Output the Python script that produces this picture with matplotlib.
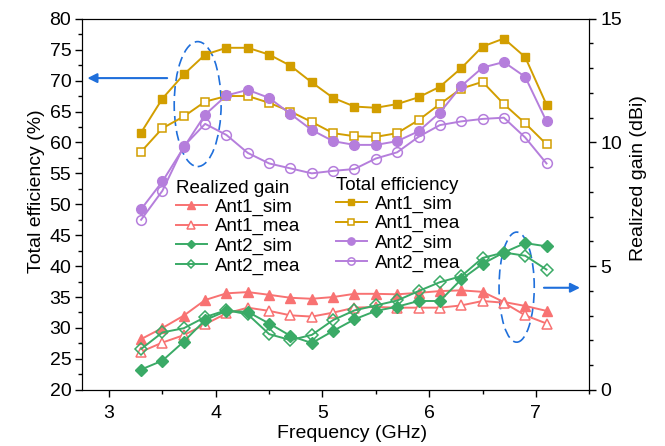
import numpy as np
import matplotlib
matplotlib.use("Agg")
import matplotlib.pyplot as plt
from matplotlib.patches import Ellipse
from matplotlib.ticker import MultipleLocator

plt.rcParams['font.family'] = ['Liberation Sans', 'DejaVu Sans']

# frequency points (GHz)
freq = [3.3, 3.5, 3.7, 3.9, 4.1, 4.3, 4.5, 4.7, 4.9, 5.1,
        5.3, 5.5, 5.7, 5.9, 6.1, 6.3, 6.5, 6.7, 6.9, 7.1]

# total efficiency (%)
eff_ant1_sim = [61.6, 67.1, 71.0, 74.2, 75.3, 75.3, 74.2, 72.4, 69.7, 67.2,
                65.8, 65.6, 66.2, 67.3, 69.0, 72.0, 75.5, 76.8, 73.8, 66.1]
eff_ant1_mea = [58.5, 62.3, 64.2, 66.6, 67.5, 67.5, 66.4, 65.0, 63.3, 61.5,
                61.0, 60.9, 61.5, 63.6, 66.2, 68.7, 69.8, 66.2, 63.1, 59.7]
eff_ant2_sim = [49.2, 53.7, 59.2, 64.5, 67.6, 68.5, 67.2, 64.6, 62.0, 60.2,
                59.6, 59.6, 60.2, 61.8, 64.8, 69.1, 72.1, 73.0, 70.6, 63.4]
eff_ant2_mea = [47.5, 52.2, 59.4, 63.0, 61.2, 58.3, 56.6, 55.8, 55.0, 55.4,
                55.7, 57.4, 58.4, 60.9, 62.8, 63.4, 63.8, 64.0, 60.8, 56.6]

# realized gain (dBi)
gain_ant1_sim = [2.05, 2.5, 3.0, 3.63, 3.9, 3.95, 3.84, 3.72, 3.68, 3.75,
                 3.88, 3.88, 3.86, 3.92, 3.99, 4.02, 3.96, 3.55, 3.39, 3.19]
gain_ant1_mea = [1.54, 1.91, 2.21, 2.65, 3.09, 3.32, 3.19, 3.01, 2.96, 3.12,
                 3.32, 3.35, 3.32, 3.32, 3.32, 3.41, 3.59, 3.52, 3.01, 2.68]
gain_ant2_sim = [0.82, 1.18, 1.95, 2.82, 3.19, 3.15, 2.68, 2.18, 1.89, 2.38,
                 2.85, 3.19, 3.36, 3.59, 3.59, 4.46, 5.09, 5.55, 5.93, 5.8]
gain_ant2_mea = [1.65, 2.32, 2.49, 2.94, 3.22, 3.05, 2.25, 2.01, 2.22, 2.82,
                 3.21, 3.41, 3.61, 3.99, 4.35, 4.59, 5.33, 5.55, 5.42, 4.86]

labels = ['Ant1_sim', 'Ant1_mea', 'Ant2_sim', 'Ant2_mea']

gold = '#D29E00'
purple = '#B57EDC'
red = '#F87272'
green = '#3AAA66'
blue = '#1F6FDB'

fig = plt.figure(figsize=(6.65, 4.46), dpi=100)
ax = fig.add_axes([0.124, 0.126, 0.762, 0.832])
ax2 = ax.twinx()

lw = 1.4
# total efficiency on left axis
ax.plot(freq, eff_ant1_sim, color=gold, lw=lw, marker='s', ms=5.5, label=labels[0])
ax.plot(freq, eff_ant1_mea, color=gold, lw=lw, marker='s', ms=5.5, mfc='white', mew=1.1, label=labels[1])
ax.plot(freq, eff_ant2_sim, color=purple, lw=lw, marker='o', ms=7, label=labels[2])
ax.plot(freq, eff_ant2_mea, color=purple, lw=lw, marker='o', ms=7, mfc='none', mew=1.1, label=labels[3])

# realized gain on right axis
g1 = ax2.plot(freq, gain_ant1_sim, color=red, lw=lw, marker='^', ms=7, label=labels[0])
g2 = ax2.plot(freq, gain_ant1_mea, color=red, lw=lw, marker='^', ms=7, mfc='white', mew=1.1, label=labels[1])
g3 = ax2.plot(freq, gain_ant2_sim, color=green, lw=lw, marker='D', ms=6, label=labels[2])
g4 = ax2.plot(freq, gain_ant2_mea, color=green, lw=lw, marker='D', ms=6, mfc='none', mew=1.1, label=labels[3])

ax.set_xlim(2.75, 7.5)
ax.set_ylim(20, 80)
ax2.set_ylim(0, 15)

ax.xaxis.set_major_locator(MultipleLocator(1))
ax.xaxis.set_minor_locator(MultipleLocator(0.5))
ax.yaxis.set_major_locator(MultipleLocator(5))
ax.yaxis.set_minor_locator(MultipleLocator(2.5))
ax2.yaxis.set_major_locator(MultipleLocator(5))
ax2.yaxis.set_minor_locator(MultipleLocator(1))

fs = 14
for a in (ax, ax2):
    a.tick_params(which='major', direction='out', length=5, width=1, labelsize=fs, pad=3)
    a.tick_params(which='minor', direction='out', length=3, width=1)
ax.tick_params(axis='x', pad=6)

ax.set_xlabel('Frequency (GHz)', fontsize=fs, labelpad=2)
ax.set_ylabel('Total efficiency (%)', fontsize=fs, labelpad=3)
ax2.set_ylabel('Realized gain (dBi)', fontsize=fs, labelpad=6)
ax.xaxis.label.set_x(0.533)
ax.yaxis.label.set_y(0.534)
ax2.yaxis.label.set_y(0.571)

# ellipses and arrows
ax.add_patch(Ellipse((3.83, 66.2), 0.44, 20.2, fill=False, ec=blue, lw=1.2,
                     ls=(0, (6, 3))))
ax.add_patch(Ellipse((6.82, 36.6), 0.33, 17.8, fill=False, ec=blue, lw=1.2,
                     ls=(0, (6, 3))))
ax.annotate('', xy=(2.77, 70.4), xytext=(3.57, 70.4),
            arrowprops=dict(arrowstyle='-|>', color=blue, lw=1.5, mutation_scale=14))
ax.annotate('', xy=(7.44, 36.5), xytext=(7.05, 36.5),
            arrowprops=dict(arrowstyle='-|>', color=blue, lw=1.5, mutation_scale=14))

# legends
lfs = 13.5
leg1 = ax2.legend(handles=g1 + g2 + g3 + g4, title='Realized gain', loc='upper left',
                  bbox_to_anchor=(176 / 665, 1 - 180 / 446), bbox_transform=fig.transFigure,
                  frameon=False, fontsize=lfs, title_fontsize=lfs, handlelength=1.65,
                  handletextpad=0.45, labelspacing=0.13, borderpad=0, borderaxespad=0,
                  markerscale=0.75)
leg1._legend_box.align = 'left'
leg1._legend_box.sep = 1
ax2.add_artist(leg1)
h, l = ax.get_legend_handles_labels()
leg2 = ax2.legend(h, l, title='Total efficiency', loc='upper left',
                  bbox_to_anchor=(336 / 665, 1 - 177 / 446), bbox_transform=fig.transFigure,
                  frameon=False, fontsize=lfs, title_fontsize=lfs, handlelength=1.65,
                  handletextpad=0.45, labelspacing=0.13, borderpad=0, borderaxespad=0,
                  markerscale=0.75)
leg2._legend_box.align = 'left'
leg2._legend_box.sep = 1

fig.savefig('out.png', dpi=100)
